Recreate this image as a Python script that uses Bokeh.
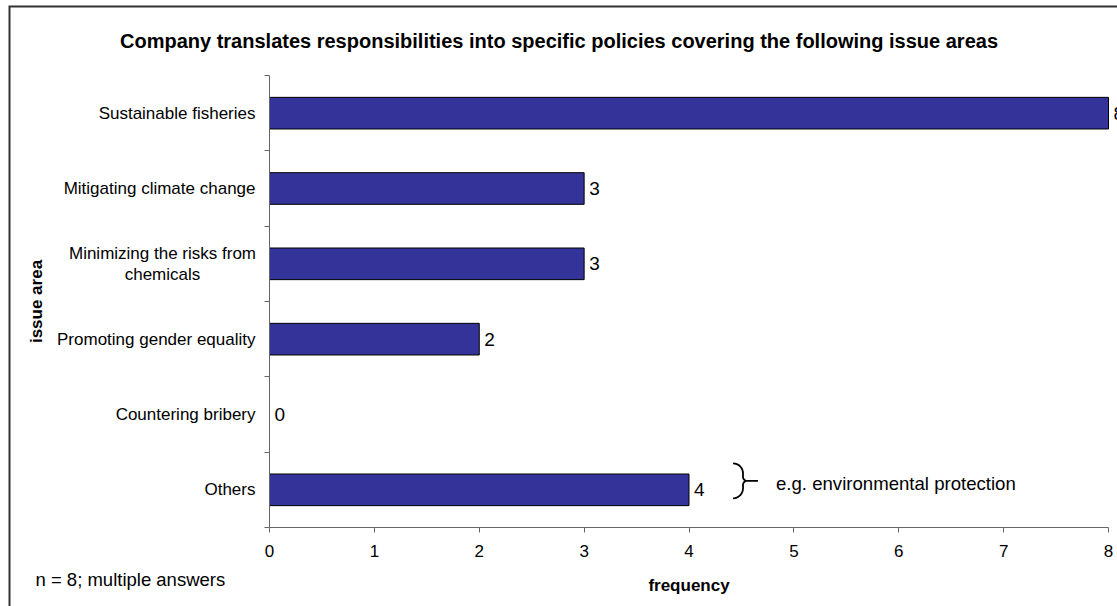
import math

from bokeh.plotting import figure
from bokeh.models import Range1d, FixedTicker, LabelSet, ColumnDataSource
from bokeh.core.properties import value
from bokeh.embed import file_html
from bokeh.resources import INLINE

# ---- data -------------------------------------------------------------
issues = [
    "Sustainable fisheries",
    "Mitigating climate change",
    "Minimizing the risks from\nchemicals",
    "Promoting gender equality",
    "Countering bribery",
    "Others",
]
frequency = [8, 3, 3, 2, 0, 4]
freq_ticks = [0, 1, 2, 3, 4, 5, 6, 7, 8]

title_text = "Company translates responsibilities into specific policies covering the following issue areas"
note_text = "n = 8; multiple answers"
others_note = "e.g. environmental protection"

# ---- layout -----------------------------------------------------------
W, H = 1117, 606
# plotting area inside the canvas (pixels kept free around the axes)
LEFT, RIGHT, TOP, BOTTOM = 269, 9, 75, 79
AREA_W = W - LEFT - RIGHT
AREA_H = H - TOP - BOTTOM
FONT = "Liberation Sans"
BAR_COLOR = "#333399"
AXIS_COLOR = "#666666"

n = len(issues)
ypos = [n - 1 - i for i in range(n)]           # first issue on top
x_max = max(freq_ticks)
px_x = AREA_W / x_max                          # pixels per frequency unit
px_y = AREA_H / n                              # pixels per category
y_lo, y_hi = -0.5, n - 0.5


def canvas_to_data(cx, cy):
    """Convert a canvas pixel position into data coordinates."""
    return (cx - LEFT) / px_x, y_hi - (cy - TOP) / px_y


def add_text(p, x, y, text, size, align="left", style="normal", x_offset=0, y_offset=0):
    src = ColumnDataSource(dict(x=[x], y=[y], text=[text]))
    p.add_layout(LabelSet(x="x", y="y", text="text", source=src,
                          x_offset=x_offset, y_offset=y_offset,
                          text_align=align, text_baseline="middle",
                          text_font=value(FONT), text_font_size=value(size),
                          text_font_style=style, text_color="#000000"))


source = ColumnDataSource(dict(
    y=ypos, freq=frequency, label=[str(v) for v in frequency]))

# the frame covers the whole canvas; the axes are pinned inside it
x0, y0 = canvas_to_data(0, H)
x1, y1 = canvas_to_data(W, 0)
p = figure(width=W, height=H,
           x_range=Range1d(x0, x1), y_range=Range1d(y0, y1),
           output_backend="svg", toolbar_location=None,
           min_border=0, min_border_left=0, min_border_right=0,
           min_border_top=0, min_border_bottom=0)
p.title.visible = False
p.outline_line_color = None
p.grid.visible = False
p.background_fill_color = "white"
p.border_fill_color = "white"

# outer frame of the chart: only its left and top edges fall inside the page
fx0, fy0 = canvas_to_data(9, 6)
p.line([fx0, fx0, x1], [y0, fy0, fy0], line_color="#333333", line_width=2,
       line_join="miter")

# bars
p.hbar(y="y", left=0, right="freq", height=0.42, source=source,
       fill_color=BAR_COLOR, line_color="#000000", line_width=1)

# value labels at bar ends
p.add_layout(LabelSet(x="freq", y="y", text="label", source=source,
                      x_offset=5, text_baseline="middle", text_align="left",
                      text_font=value(FONT), text_font_size=value("19px"),
                      text_color="#000000"))

# x axis
xa = p.xaxis[0]
xa.fixed_location = y_lo
xa.bounds = (0, x_max)
xa.ticker = FixedTicker(ticks=freq_ticks)
xa.axis_line_color = AXIS_COLOR
xa.major_tick_line_color = AXIS_COLOR
xa.major_tick_in = 0
xa.major_tick_out = 5
xa.minor_tick_line_color = None
xa.major_label_text_font = FONT
xa.major_label_text_font_size = "17px"
xa.major_label_text_color = "#000000"
xa.major_label_standoff = 12
xa.axis_label = "frequency"
xa.axis_label_text_font = FONT
xa.axis_label_text_font_size = "17px"
xa.axis_label_text_font_style = "bold"
xa.axis_label_text_color = "#000000"
xa.axis_label_standoff = 16

# y axis: labels at category centres, ticks on category boundaries
ya = p.yaxis[0]
ya.fixed_location = 0
ya.bounds = (y_lo, y_hi)
ya.ticker = FixedTicker(ticks=ypos, minor_ticks=[i - 0.5 for i in range(n + 1)])
ya.major_label_overrides = {y: ("" if "\n" in lab else lab) for y, lab in zip(ypos, issues)}
ya.axis_line_color = AXIS_COLOR
ya.major_tick_line_color = None
ya.major_tick_in = 0
ya.major_tick_out = 0
ya.minor_tick_line_color = AXIS_COLOR
ya.minor_tick_in = 0
ya.minor_tick_out = 5
ya.major_label_text_font = FONT
ya.major_label_text_font_size = "17px"
ya.major_label_text_color = "#000000"
ya.major_label_standoff = 9
ya.axis_label = "issue area"
ya.axis_label_text_font = FONT
ya.axis_label_text_font_size = "17px"
ya.axis_label_text_font_style = "bold"
ya.axis_label_text_color = "#000000"
ya.axis_label_standoff = 8

# two-line category names: each line centred under the other
LINE_GAP = 21
for lab, y in zip(issues, ypos):
    if "\n" in lab:
        lines = lab.split("\n")
        for k, line in enumerate(lines):
            dy = ((len(lines) - 1) / 2 - k) * LINE_GAP
            add_text(p, 0, y, line, "17px", align="center", x_offset=-107, y_offset=dy)

# chart title and sample note
tx, ty = canvas_to_data(W / 2, 40)
add_text(p, tx, ty, title_text, "20px", align="center", style="bold")
nx, ny = canvas_to_data(35, 579)
add_text(p, nx, ny, note_text, "18.5px")

# curly brace and note next to the "Others" bar
oth = issues.index("Others")
ox, oy = frequency[oth], ypos[oth]
bx0, by0 = 44, -9                    # brace anchor, px from the bar end
r, r2, h, w = 10, 4, 17.5, 25
pts = []
for k in range(9):
    t = k / 8 * math.pi / 2
    pts.append((r * math.sin(t), -h + r * (1 - math.cos(t))))
for k in range(7):
    t = k / 6 * math.pi / 2
    pts.append((r + r2 - r2 * math.cos(t), -r2 + r2 * math.sin(t)))
pts.append((w, 0))
pts += [(x, -y) for x, y in reversed(pts[:-1])]
bxs = [ox + (bx0 + x) / px_x for x, y in pts]
bys = [oy - (by0 + y) / px_y for x, y in pts]
p.line(bxs, bys, line_color="#000000", line_width=1.8)

add_text(p, ox, oy, others_note, "18.6px", x_offset=87, y_offset=6)

open("out.html", "w").write(file_html(p, INLINE))
